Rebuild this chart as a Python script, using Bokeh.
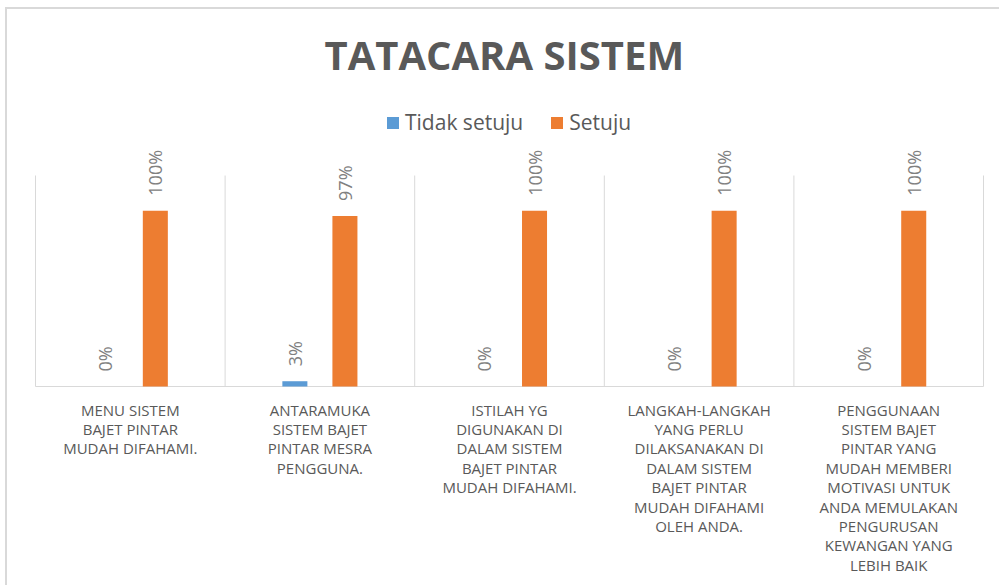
import math
from bokeh.plotting import figure
from bokeh.models import (ColumnDataSource, LabelSet, Legend, LegendItem,
                          Range1d, Label)
from bokeh.core.properties import value
from bokeh.embed import file_html
from bokeh.resources import INLINE

# ---- data -------------------------------------------------------------
categories = [
    "MENU SISTEM\nBAJET PINTAR\nMUDAH DIFAHAMI.",
    "ANTARAMUKA\nSISTEM BAJET\nPINTAR MESRA\nPENGGUNA.",
    "ISTILAH YG\nDIGUNAKAN DI\nDALAM SISTEM\nBAJET PINTAR\nMUDAH DIFAHAMI.",
    "LANGKAH-LANGKAH\nYANG PERLU\nDILAKSANAKAN DI\nDALAM SISTEM\nBAJET PINTAR\nMUDAH DIFAHAMI\nOLEH ANDA.",
    "PENGGUNAAN\nSISTEM BAJET\nPINTAR YANG\nMUDAH MEMBERI\nMOTIVASI UNTUK\nANDA MEMULAKAN\nPENGURUSAN\nKEWANGAN YANG\nLEBIH BAIK",
]
tidak_setuju = [0, 3, 0, 0, 0]
setuju = [100, 97, 100, 100, 100]
series_names = ["Tidak setuju", "Setuju"]
title_text = "TATACARA  SISTEM"
y_max = 1.2          # value axis maximum (120 %)

# ---- layout constants (pixels inside the figure) ------------------------
W, H = 994, 578
FRAME_L, FRAME_R = 28, 976       # plot area left / right
FRAME_T, FRAME_B = 166, 377      # plot area top (y_max) / bottom (0)
TITLE_Y = 45
FONT = "Open Sans"
BLUE = "#5b9bd5"
ORANGE = "#ed7d31"
OFF = 0.132

n = len(categories)
px_x = (FRAME_R - FRAME_L) / n
px_y = (FRAME_B - FRAME_T) / y_max
x_range = Range1d(-FRAME_L / px_x, n + (W - FRAME_R) / px_x)
y_range = Range1d(-(H - FRAME_B) / px_y, y_max + FRAME_T / px_y)

xs = [i + 0.5 for i in range(n)]
src = ColumnDataSource(dict(
    x=xs,
    xb=[x - OFF for x in xs],
    xo=[x + OFF for x in xs],
    tidak=[v / 100 for v in tidak_setuju],
    setuju=[v / 100 for v in setuju],
    tidak_lbl=[f"{v}%" for v in tidak_setuju],
    setuju_lbl=[f"{v}%" for v in setuju],
    cat=categories,
    y0=[0] * n,
))

p = figure(width=W, height=H, x_range=x_range, y_range=y_range,
           output_backend="svg", toolbar_location=None,
           x_axis_location=None, y_axis_location=None,
           min_border=0,
           styles={"margin-left": "5px", "margin-top": "7px",
                   "border-left": "2px solid #d9d9d9",
                   "border-top": "2px solid #d9d9d9"})
p.grid.grid_line_color = None
p.outline_line_color = None
p.background_fill_color = "white"
p.border_fill_color = "white"

# category separators and base line
sep = list(range(n + 1))
p.segment(x0=sep, x1=sep, y0=[0] * len(sep), y1=[y_max] * len(sep),
          line_color="#d9d9d9", line_width=1)
p.segment(x0=[0], x1=[n], y0=[0], y1=[0], line_color="#d9d9d9", line_width=1)

r1 = p.vbar(x="xb", top="tidak", width=OFF, source=src,
            fill_color=BLUE, line_color=None)
r2 = p.vbar(x="xo", top="setuju", width=OFF, source=src,
            fill_color=ORANGE, line_color=None)

for xcol, col, lbl in (("xb", "tidak", "tidak_lbl"), ("xo", "setuju", "setuju_lbl")):
    p.add_layout(LabelSet(x=xcol, y=col, text=lbl, source=src,
                          angle=math.pi / 2, text_align="left",
                          text_baseline="middle", y_offset=15,
                          text_color="#808080", text_font_size="18px",
                          text_font=value(FONT)))

# category labels under the axis
p.text(x="x", y="y0", text="cat", source=src, text_align="center",
       text_baseline="top", y_offset=13, text_font=value(FONT),
       text_font_size="15px", text_color="#595959", text_line_height=0.97)

# title
p.add_layout(Label(x=n / 2, y=y_max + (FRAME_T - TITLE_Y) / px_y,
                   text=title_text, text_align="center",
                   text_baseline="middle", text_font=FONT,
                   text_font_size="40px", text_font_style="bold",
                   text_color="#595959"))

legend = Legend(items=[LegendItem(label=series_names[0], renderers=[r1]),
                       LegendItem(label=series_names[1], renderers=[r2])],
                orientation="horizontal", location=(378, 451),
                label_text_font=FONT, label_text_font_size="21px",
                label_text_color="#595959", glyph_width=15, glyph_height=15,
                spacing=26, label_standoff=5, padding=10,
                border_line_color=None, background_fill_alpha=0)
p.add_layout(legend)

open("out.html", "w").write(file_html(p, INLINE))
